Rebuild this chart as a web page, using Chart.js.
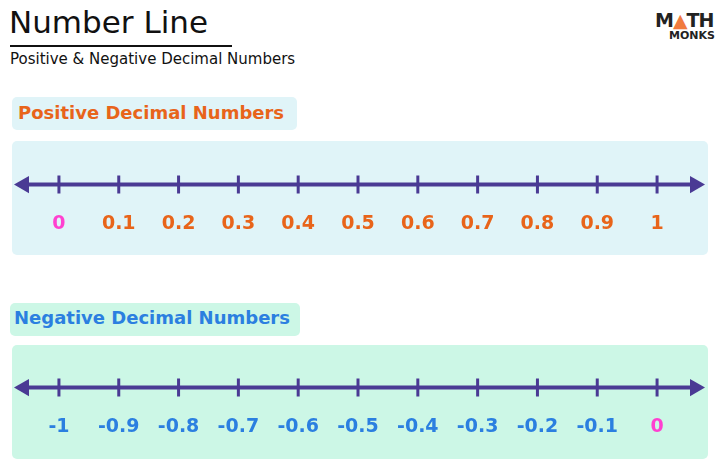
<!DOCTYPE html>
<html><head><meta charset="utf-8">
<script src="https://cdn.jsdelivr.net/npm/chart.js@4"></script>
<style>
body{margin:0;width:720px;height:474px;background:#fff;font-family:"DejaVu Sans",sans-serif;position:relative;overflow:hidden}
.a{position:absolute;white-space:nowrap}
.panel{position:absolute;border-radius:5px}
</style></head><body>
<div class="a" style="left:9px;top:4px;font-size:31px;color:#111">Number Line</div>
<div class="a" style="left:10px;top:45px;width:222px;height:2px;background:#111"></div>
<div class="a" style="left:10px;top:50px;font-size:15px;color:#111">Positive &amp; Negative Decimal Numbers</div>
<div class="a" style="left:655px;top:9px;font-size:19px;font-weight:bold;color:#222;letter-spacing:-1px">M<span style="color:#F07A3E">▲</span>TH</div>
<div class="a" style="left:669px;top:29px;font-size:11px;font-weight:bold;color:#222">MONKS</div>

<div class="panel" style="left:12px;top:97px;width:285px;height:33px;background:#E0F4F8"></div>
<div class="a" style="left:18px;top:102px;font-size:18px;font-weight:bold;color:#E8641A">Positive Decimal Numbers</div>
<div class="panel" style="left:12px;top:141px;width:696px;height:114px;background:#E0F4F8"></div>

<div class="panel" style="left:10px;top:303px;width:290px;height:33px;background:#CCF7E6"></div>
<div class="a" style="left:14px;top:307px;font-size:18px;font-weight:bold;color:#2B7FE0">Negative Decimal Numbers</div>
<div class="panel" style="left:12px;top:345px;width:696px;height:114px;background:#CCF7E6"></div>

<div class="a" style="left:0.5px;top:142px;width:719px;height:114px"><canvas id="c1"></canvas></div>
<div class="a" style="left:0.5px;top:345px;width:719px;height:114px"><canvas id="c2"></canvas></div>
<script>
const posTicks=[0,0.1,0.2,0.3,0.4,0.5,0.6,0.7,0.8,0.9,1];
const posLabels=["0","0.1","0.2","0.3","0.4","0.5","0.6","0.7","0.8","0.9","1"];
const negTicks=[-1,-0.9,-0.8,-0.7,-0.6,-0.5,-0.4,-0.3,-0.2,-0.1,0];
const negLabels=["-1","-0.9","-0.8","-0.7","-0.6","-0.5","-0.4","-0.3","-0.2","-0.1","0"];
const lineColor="#4A3A94";
function make(id,ticks,labels,color,zeroColor){
  const lo=ticks[0],hi=ticks[ticks.length-1],u=(hi-lo)/599;
  const min=lo-46*u,max=lo+650*u;
  const a=lo-35*u,b=lo+637*u;
  new Chart(document.getElementById(id),{
    type:'scatter',
    data:{datasets:[
      {data:ticks.map(v=>({x:v,y:0})),pointStyle:'line',rotation:90,radius:9,borderWidth:3,borderColor:lineColor,hoverRadius:9},
      {type:'line',data:[{x:a,y:0},{x:b,y:0}],borderColor:lineColor,borderWidth:4,backgroundColor:lineColor,
       pointStyle:'triangle',pointRotation:[270,90],pointRadius:10,pointBorderWidth:0}
    ]},
    options:{responsive:true,maintainAspectRatio:false,animation:false,
      layout:{padding:{top:24,bottom:20,left:0,right:0}},
      plugins:{legend:{display:false},tooltip:{enabled:false}},
      scales:{
        y:{display:false,min:-1,max:1},
        x:{type:'linear',min:min,max:max,grid:{display:false},border:{display:false},
          afterBuildTicks:s=>{s.ticks=ticks.map(v=>({value:v}));},
          ticks:{padding:1,autoSkip:false,maxRotation:0,font:{size:19,weight:'bold',family:'DejaVu Sans'},
            color:c=>labels[c.index]==="0"?zeroColor:color,
            callback:(v,i)=>labels[i]}}
      }}
  });
}
make('c1',posTicks,posLabels,'#E8641A','#FF40D0');
make('c2',negTicks,negLabels,'#2B7FE0','#FF40D0');
</script></body></html>
